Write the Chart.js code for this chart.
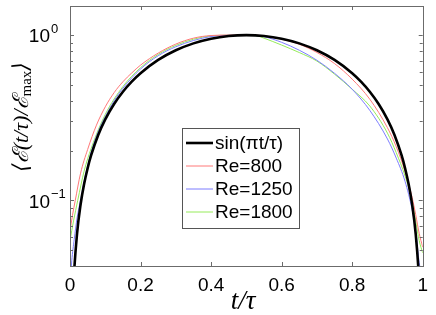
<!DOCTYPE html>
<html>
<head>
<meta charset="utf-8">
<script src="https://cdn.jsdelivr.net/npm/chart.js@4/dist/chart.umd.min.js"></script>
<style>
  html, body { margin: 0; padding: 0; background: #fff; }
  #wrap { width: 436px; height: 315px; }
</style>
</head>
<body>
<div id="wrap"><canvas id="c" width="436" height="315"></canvas></div>
<script>
// values
const tSin = [0.005,0.01,0.02,0.03,0.04,0.05,0.06,0.08,0.1,0.125,0.15,0.175,0.2,0.25,0.3,0.35,0.4,0.45,0.5,0.55,0.6,0.65,0.7,0.75,0.8,0.825,0.85,0.875,0.9,0.92,0.94,0.95,0.96,0.97,0.98,0.99,0.995];
const eSin = [0.0157,0.0314,0.0628,0.0941,0.1253,0.1564,0.1874,0.2487,0.3090,0.3827,0.4540,0.5225,0.5878,0.7071,0.8090,0.8910,0.9511,0.9877,1.0,0.9877,0.9511,0.8910,0.8090,0.7071,0.5878,0.5225,0.4540,0.3827,0.3090,0.2487,0.1874,0.1564,0.1253,0.0941,0.0628,0.0314,0.0157];

const t800 = [0,0.007,0.015,0.03,0.05,0.075,0.1,0.125,0.15,0.175,0.2,0.25,0.3,0.35,0.4,0.45,0.5,0.55,0.6,0.65,0.7,0.75,0.8,0.85,0.9,0.925,0.95,0.97,0.98,0.99,1.0];
const e800 = [0.065,0.081,0.1,0.146,0.203,0.285,0.368,0.448,0.522,0.59,0.658,0.778,0.882,0.958,0.994,1.0,1.0,0.99,0.945,0.88,0.785,0.672,0.541,0.409,0.275,0.211,0.149,0.104,0.082,0.063,0.052];

const t1250 = [0,0.005,0.012,0.02,0.031,0.045,0.06,0.08,0.1,0.125,0.15,0.2,0.25,0.3,0.35,0.4,0.45,0.5,0.55,0.6,0.65,0.7,0.75,0.8,0.85,0.9,0.925,0.95,0.97,0.98,0.99,1.0];
const e1250 = [0.03,0.043,0.058,0.078,0.103,0.146,0.196,0.26,0.321,0.4,0.477,0.623,0.75,0.85,0.927,0.98,0.998,1.0,0.978,0.904,0.81,0.704,0.587,0.47,0.35,0.235,0.18,0.13,0.0875,0.066,0.042,0.033];

const t1800 = [0,0.01,0.022,0.04,0.06,0.1,0.15,0.2,0.25,0.3,0.35,0.4,0.45,0.5,0.53,0.55,0.6,0.65,0.7,0.75,0.8,0.85,0.9,0.925,0.95,0.97,0.98,0.99,1.0];
const e1800 = [0.057,0.075,0.1,0.15,0.206,0.331,0.488,0.635,0.764,0.866,0.944,0.989,0.998,1.0,0.99,0.958,0.87,0.784,0.696,0.58,0.47,0.372,0.255,0.194,0.14,0.099,0.075,0.057,0.048];

const seriesNames = ['sin(\u03c0t/\u03c4)', 'Re=800', 'Re=1250', 'Re=1800'];
const xTicks = [0, 0.2, 0.4, 0.6, 0.8, 1];
const xTickLabels = ['0', '0.2', '0.4', '0.6', '0.8', '1'];
const yMajor = [0.1, 1];
const yMinor = [0.04,0.05,0.06,0.07,0.08,0.09,0.2,0.3,0.4,0.5,0.6,0.7,0.8,0.9];
const yLabels = [['10','\u22121'], ['10','0']];

const pts = (t, e) => t.map((v, i) => ({x: v, y: e[i]}));

// matlab-like box, inward ticks, y labels, titles and legend
const frame = {
  id: 'frame',
  afterDraw(chart) {
    const {ctx, chartArea: a, scales: {x, y}} = chart;
    ctx.save();
    ctx.strokeStyle = '#6b6b6b';
    ctx.lineWidth = 1;
    ctx.beginPath();
    xTicks.forEach(v => {
      const px = Math.round(x.getPixelForValue(v)) + 0.5;
      ctx.moveTo(px, a.bottom); ctx.lineTo(px, a.bottom - 4);
      ctx.moveTo(px, a.top); ctx.lineTo(px, a.top + 4);
    });
    yMajor.concat(yMinor).forEach(v => {
      const py = Math.round(y.getPixelForValue(v)) + 0.5;
      const len = yMajor.includes(v) ? 4 : 3;
      ctx.moveTo(a.left, py); ctx.lineTo(a.left + len, py);
      ctx.moveTo(a.right, py); ctx.lineTo(a.right - len, py);
    });
    ctx.stroke();
    ctx.strokeRect(Math.round(a.left) + 0.5, Math.round(a.top) + 0.5,
      Math.round(a.right - a.left), Math.round(a.bottom - a.top));

    // y tick labels 10^n
    ctx.fillStyle = '#000';
    yMajor.forEach((v, i) => {
      const py = y.getPixelForValue(v);
      ctx.font = '19px "Liberation Sans", Arial, sans-serif';
      ctx.textAlign = 'right';
      ctx.textBaseline = 'middle';
      ctx.fillText(yLabels[i][0], 50, py + 2);
      ctx.font = '13px "Liberation Sans", Arial, sans-serif';
      ctx.textAlign = 'left';
      ctx.fillText(yLabels[i][1], 51, py - 6);
    });

    // x title
    ctx.font = 'italic 27px "Liberation Serif", "DejaVu Serif", serif';
    ctx.textAlign = 'center';
    ctx.textBaseline = 'alphabetic';
    ctx.fillText('t/\u03c4', 243, 309);

    // y title
    ctx.save();
    ctx.translate(22, 117);
    ctx.rotate(-Math.PI / 2);
    const big = 'italic 22px "Liberation Serif", "DejaVu Serif", serif';
    const small = '15px "Liberation Serif", "DejaVu Serif", serif';
    const parts = [['\u27e8\u2130(t/\u03c4)/\u2130', big, 0], ['max', small, 5], ['\u27e9', big, 0]];
    let w = 0;
    parts.forEach(p => { ctx.font = p[1]; w += ctx.measureText(p[0]).width; });
    let cx = -w / 2;
    ctx.textAlign = 'left';
    ctx.textBaseline = 'middle';
    parts.forEach(p => {
      ctx.font = p[1];
      ctx.fillText(p[0], cx, p[2]);
      cx += ctx.measureText(p[0]).width;
    });
    ctx.restore();

    // legend
    const lx = 182, ly = 128, lw = 117, lh = 100;
    ctx.fillStyle = '#fff';
    ctx.fillRect(lx, ly, lw, lh);
    ctx.strokeStyle = '#555';
    ctx.strokeRect(lx + 0.5, ly + 0.5, lw, lh);
    chart.data.datasets.forEach((ds, i) => {
      const ry = 143 + i * 23;
      ctx.strokeStyle = ds.borderColor;
      ctx.lineWidth = ds.borderWidth;
      ctx.beginPath();
      ctx.moveTo(186, ry); ctx.lineTo(213, ry);
      ctx.stroke();
      ctx.fillStyle = '#000';
      ctx.font = '19px "Liberation Sans", Arial, sans-serif';
      ctx.textAlign = 'left';
      ctx.textBaseline = 'middle';
      ctx.fillText(ds.label, 215, ry + 1);
    });
    ctx.restore();
  }
};

new Chart(document.getElementById('c'), {
  type: 'line',
  data: {
    datasets: [
      {label: seriesNames[0], data: pts(tSin, eSin), borderColor: '#000', borderWidth: 2.6},
      {label: seriesNames[1], data: pts(t800, e800), borderColor: 'rgb(255,120,120)', borderWidth: 1},
      {label: seriesNames[2], data: pts(t1250, e1250), borderColor: 'rgb(125,125,255)', borderWidth: 1},
      {label: seriesNames[3], data: pts(t1800, e1800), borderColor: 'rgb(150,235,90)', borderWidth: 1}
    ]
  },
  options: {
    responsive: false,
    animation: false,
    cubicInterpolationMode: 'monotone',
    elements: {point: {radius: 0}, line: {fill: false}},
    layout: {padding: {top: 6, right: 11, left: 0, bottom: 0}},
    plugins: {legend: {display: false}, tooltip: {enabled: false}},
    scales: {
      x: {
        type: 'linear', min: 0, max: 1,
        grid: {display: false, drawTicks: false},
        border: {display: false},
        afterBuildTicks: s => { s.ticks = xTicks.map(v => ({value: v})); },
        ticks: {color: '#000', padding: 8,
          callback: (v) => xTickLabels[xTicks.indexOf(v)] ?? '',
          font: {family: '"Liberation Sans", Arial, sans-serif', size: 19}},
        afterFit: s => { s.height = 49; }
      },
      y: {
        type: 'logarithmic', min: 0.04, max: 1.5,
        grid: {display: false, drawTicks: false},
        border: {display: false},
        ticks: {display: false},
        afterFit: s => { s.width = 70; }
      }
    }
  },
  plugins: [frame]
});
</script>
</body>
</html>
